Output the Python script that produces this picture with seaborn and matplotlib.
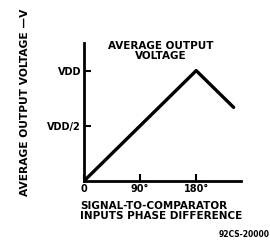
import matplotlib
matplotlib.use('Agg')
import matplotlib.pyplot as plt
import seaborn as sns
import pandas as pd

# Fasevinkel (grader) og midlere utgangsspenning (andel av VDD)
phase_deg = [0, 180, 240]
avg_voltage = [0.0, 1.0, 0.667]
x_ticks = [0, 90, 180]
x_tick_labels = ['0', '90°', '180°']
y_ticks = [0.5, 1.0]
y_tick_labels = ['VDD/2', 'VDD']

data = pd.DataFrame({'phase': phase_deg, 'voltage': avg_voltage})

sns.set_style('ticks')
plt.rcParams['font.family'] = ['DejaVu Sans']
plt.rcParams['font.weight'] = 'bold'
plt.rcParams['text.color'] = 'black'

fig = plt.figure(figsize=(2.7, 2.43), dpi=100)
ax = fig.add_axes([0.311, 0.255, 0.582, 0.568])

sns.lineplot(x='phase', y='voltage', data=data, ax=ax, color='black', linewidth=2.4)

ax.set_xlim(0, 252)
ax.set_ylim(0, 1.25)
ax.set_xticks(x_ticks)
ax.set_xticklabels(x_tick_labels, fontsize=7, fontweight='bold')
ax.set_yticks(y_ticks)
ax.set_yticklabels(y_tick_labels, fontsize=7, fontweight='bold')
ax.tick_params(direction='in', length=5, width=1.5, pad=2, colors='black')
ax.set_xlabel('')
ax.set_ylabel('')
for side in ['top', 'right']:
    ax.spines[side].set_visible(False)
for side in ['left', 'bottom']:
    ax.spines[side].set_linewidth(2)
    ax.spines[side].set_color('black')

fig.text(0.596, 0.79, 'AVERAGE OUTPUT\nVOLTAGE', ha='center', va='center',
         fontsize=7.5, fontweight='bold', linespacing=1.0, color='black')
fig.text(0.093, 0.58, 'AVERAGE OUTPUT VOLTAGE —V', rotation=90, ha='center', va='center',
         fontsize=7.7, fontweight='bold', color='black')
fig.text(0.298, 0.13, 'SIGNAL-TO-COMPARATOR\nINPUTS PHASE DIFFERENCE', ha='left', va='center',
         fontsize=7.5, fontweight='bold', linespacing=1.0, color='black')
fig.text(0.998, 0.035, '92CS-20000', ha='right', va='center', fontsize=5.5, color='black')

plt.savefig('out.png', dpi=100)
